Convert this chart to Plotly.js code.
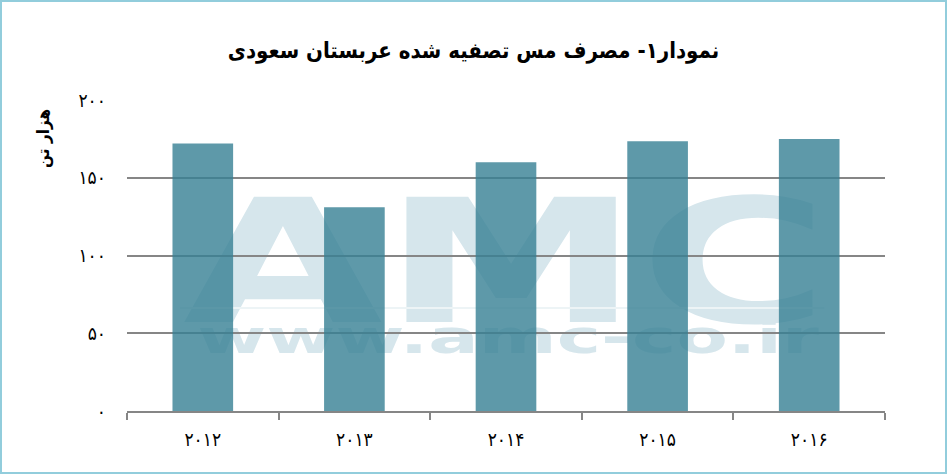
<!DOCTYPE html>
<html>
<head>
<meta charset="utf-8">
<script src="https://cdn.plot.ly/plotly-3.0.1.min.js"></script>
<style>
  html, body { margin: 0; padding: 0; background: #fff; }
  #wrap { width: 947px; height: 474px; box-sizing: border-box; border: 2px solid #92cddc; overflow: hidden; }
  #chart { width: 943px; height: 470px; }
</style>
</head>
<body>
<div id="wrap"><div id="chart"></div></div>
<script>
// ---- data ----
const years = ['۲۰۱۲', '۲۰۱۳', '۲۰۱۴', '۲۰۱۵', '۲۰۱۶'];
const consumption = [172, 131, 160, 173.5, 175];
const yTickVals = [0, 50, 100, 150, 200];
const yTickText = ['۰', '۵۰', '۱۰۰', '۱۵۰', '۲۰۰'];
const chartTitle = 'نمودار۱- مصرف مس تصفیه شده عربستان سعودی';
const yTitle = 'هزار تن';
const watermarkBig = 'AMC';
const watermarkSmall = 'www.amc-co.ir';

const FONT = 'DejaVu Sans';
const TFONT = 'DejaVu Sans Condensed, DejaVu Sans';
const GRID = '#868686';
const WM = '#d6e6ec';

const trace = {
  type: 'bar',
  x: years,
  y: consumption,
  width: 0.4,
  marker: { color: 'rgb(54,128,148)', opacity: 0.8, line: { width: 0 } },
  hoverinfo: 'none'
};

const layout = {
  width: 943,
  height: 470,
  margin: { l: 125, r: 60, t: 98, b: 61 },
  paper_bgcolor: '#fff',
  plot_bgcolor: '#fff',
  showlegend: false,
  title: {
    text: chartTitle,
    font: { family: TFONT, size: 22, weight: 'bold', color: '#000' },
    xref: 'container', x: 0.5, xanchor: 'center',
    yref: 'container', y: 0.897, yanchor: 'middle'
  },
  xaxis: {
    type: 'category',
    showgrid: false,
    showline: true, linecolor: GRID, linewidth: 2,
    ticks: 'outside', tickson: 'boundaries', ticklen: 7, tickwidth: 2, tickcolor: GRID,
    tickfont: { family: TFONT, size: 19, color: '#000' },
    ticklabelstandoff: 10,
    zeroline: false,
    fixedrange: true
  },
  yaxis: {
    range: [0, 200],
    tickmode: 'array', tickvals: yTickVals, ticktext: yTickText,
    showgrid: true, gridcolor: GRID, gridwidth: 2,
    zeroline: false, showline: false, ticks: '',
    ticklabelstandoff: 20,
    tickfont: { family: TFONT, size: 19, color: '#000' },
    fixedrange: true
  },
  annotations: [{
    text: yTitle,
    xref: 'paper', yref: 'paper',
    x: -0.1095, y: 0.878, xanchor: 'center', yanchor: 'middle',
    textangle: -90, showarrow: false,
    font: { family: TFONT, size: 17, weight: 'bold', color: '#000' }
  }],
  shapes: [
    {
      type: 'rect', xref: 'paper', yref: 'paper', layer: 'below',
      x0: 0.074, x1: 0.926, y0: 0.347, y1: 0.685,
      line: { width: 0 }, fillcolor: 'rgba(0,0,0,0)',
      label: { text: watermarkBig, textposition: 'middle center',
               font: { family: FONT, size: 172, weight: 'bold', color: WM } }
    },
    {
      type: 'line', xref: 'paper', yref: 'paper', layer: 'below',
      x0: 0.07, x1: 0.92, y0: 0.331, y1: 0.331,
      line: { width: 2, color: '#edf4f6' }
    },
    {
      type: 'rect', xref: 'paper', yref: 'paper', layer: 'below',
      x0: 0.092, x1: 0.914, y0: 0.21, y1: 0.29,
      line: { width: 0 }, fillcolor: 'rgba(0,0,0,0)',
      label: { text: watermarkSmall, textposition: 'middle center',
               font: { family: FONT, size: 47, weight: 'bold', color: WM } }
    }
  ]
};

function stretch(txt, targetW) {
  const el = Array.from(document.querySelectorAll('text')).find(t => t.textContent === txt);
  if (!el) return;
  const bb = el.getBBox();
  if (!bb.width) return;
  const cx = bb.x + bb.width / 2;
  const s = targetW / bb.width;
  const old = el.getAttribute('transform') || '';
  el.setAttribute('transform', 'translate(' + cx + ',0) scale(' + s + ',1) translate(' + (-cx) + ',0) ' + old);
}

Plotly.newPlot('chart', [trace], layout, { staticPlot: true, displayModeBar: false }).then(() => {
  stretch(watermarkBig, 646);
  stretch(watermarkSmall, 623);
});
</script>
</body>
</html>
